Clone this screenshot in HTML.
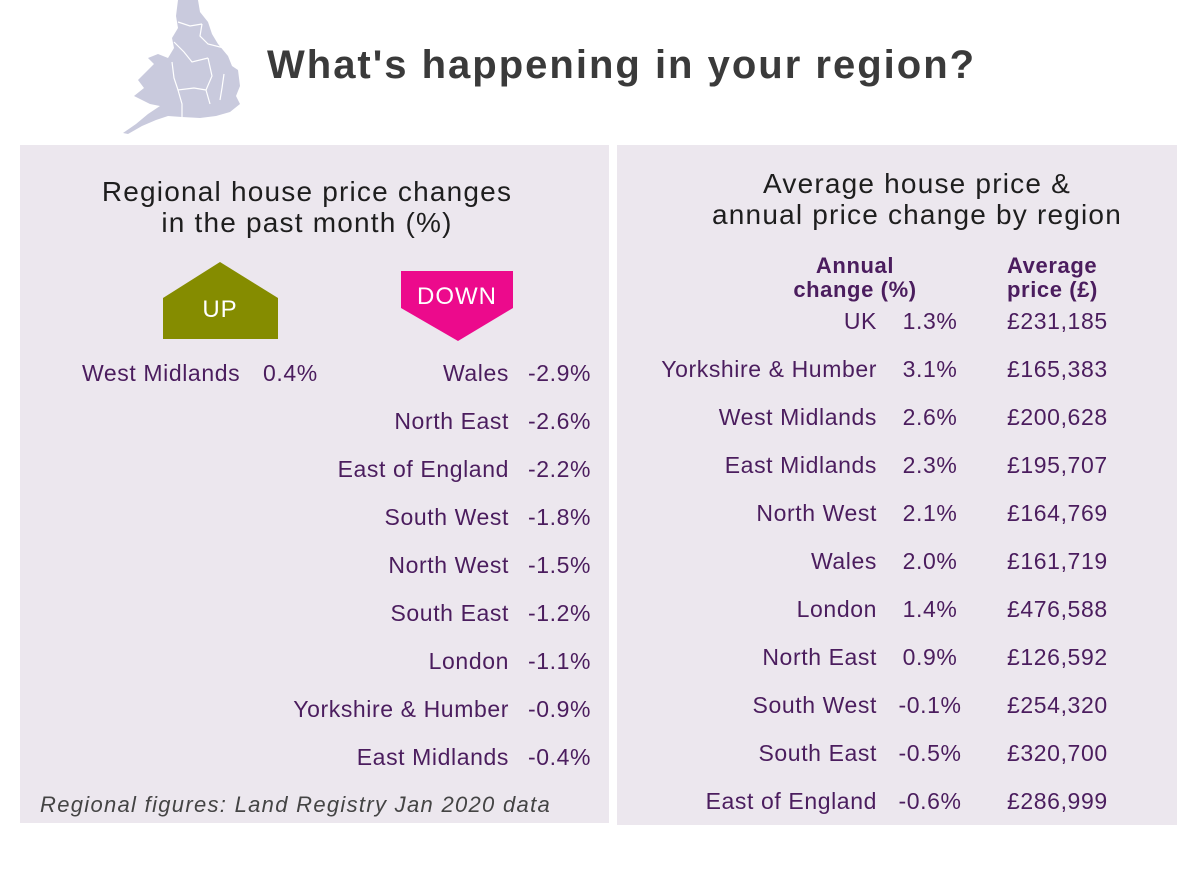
<!DOCTYPE html>
<html><head><meta charset="utf-8"><style>
body{margin:0;width:1200px;height:870px;background:#fff;position:relative;overflow:hidden;font-family:"Liberation Sans",sans-serif}
.p{position:absolute;background:#ece7ee}
.t{position:absolute;white-space:nowrap;line-height:1;color:#4b1d5e;font-size:23px;letter-spacing:0.6px}
.r{text-align:right}
.h{position:absolute;white-space:nowrap;color:#1e1e1e;font-size:28px;text-align:center;line-height:31px;letter-spacing:1.2px}
</style></head><body>
<svg style="position:absolute;left:120px;top:0" width="125" height="140" viewBox="0 0 125 140">
<path d="M58 0 L78 0 L80 12 L88 22 L92 34 L98 44 L108 56 L112 66 L118 70 L120 86 L116 96 L120 104 L110 112 L96 116 L80 118 L62 117 L48 116 L36 120 L22 126 L8 134 L3 133 L16 124 L28 114 L40 106 L30 104 L22 100 L14 96 L24 88 L18 80 L26 72 L34 64 L28 58 L38 54 L48 58 L54 48 L52 38 L58 28 L56 16 Z" fill="#c9cadd"/>
<g stroke="#fff" stroke-width="1.2" fill="none"><path d="M58 22 L70 26 L82 24"/><path d="M82 24 L80 36 L88 44 L104 48"/><path d="M54 42 L64 52 L72 62 L88 58"/><path d="M88 58 L92 76 L86 90 L90 104"/><path d="M52 62 L54 78 L58 90 L74 88 L86 90"/><path d="M58 90 L62 104 L62 117"/><path d="M104 74 L102 88 L100 100"/></g>
</svg>
<div style="position:absolute;left:267px;top:42px;font-size:40px;font-weight:bold;color:#3a3a3a;white-space:nowrap;line-height:46px;letter-spacing:2px">What's happening in your region?</div>
<div class="p" style="left:20px;top:145px;width:589px;height:678px"></div>
<div class="p" style="left:617px;top:145px;width:560px;height:680px"></div>
<div class="h" style="left:20px;width:574px;top:176px">Regional house price changes<br>in the past month (%)</div>
<div class="h" style="left:617px;width:600px;top:168px">Average house price &amp;<br>annual price change by region</div>
<svg style="position:absolute;left:0;top:0" width="1200" height="870">
<path d="M163 298 L220 262 L278 298 L278 339 L163 339 Z" fill="#858c00"/>
<path d="M401 271 L513 271 L513 308 L458 341 L401 308 Z" fill="#ec0a8c"/>
<text x="220" y="317" font-family="Liberation Sans" font-size="24" fill="#fff" text-anchor="middle" letter-spacing="1">UP</text>
<text x="457" y="304" font-family="Liberation Sans" font-size="24" fill="#fff" text-anchor="middle" letter-spacing="1">DOWN</text>
</svg>
<div class="t" style="left:82px;top:362px">West Midlands</div>
<div class="t" style="left:263px;top:362px">0.4%</div>
<div id="L"></div>
<div class="t" style="left:40px;top:794px;font-style:italic;color:#444;font-size:22px;letter-spacing:1.3px">Regional figures: Land Registry Jan 2020 data</div>
<div class="t" style="left:780px;top:254px;width:150px;text-align:center;font-weight:bold;line-height:24px;font-size:22px">Annual<br>change (%)</div>
<div class="t" style="left:1007px;top:254px;font-weight:bold;line-height:24px;font-size:22px">Average<br>price (£)</div>
<div id="R"></div>
<script>
var L=[["Wales","-2.9%"],["North East","-2.6%"],["East of England","-2.2%"],["South West","-1.8%"],["North West","-1.5%"],["South East","-1.2%"],["London","-1.1%"],["Yorkshire &amp; Humber","-0.9%"],["East Midlands","-0.4%"]];
var h="";L.forEach(function(r,i){var y=362+48*i;h+='<div class="t r" style="left:150px;width:359px;top:'+y+'px">'+r[0]+'</div><div class="t" style="left:528px;top:'+y+'px">'+r[1]+'</div>';});
document.getElementById("L").outerHTML=h;
var R=[["UK","1.3%","£231,185"],["Yorkshire &amp; Humber","3.1%","£165,383"],["West Midlands","2.6%","£200,628"],["East Midlands","2.3%","£195,707"],["North West","2.1%","£164,769"],["Wales","2.0%","£161,719"],["London","1.4%","£476,588"],["North East","0.9%","£126,592"],["South West","-0.1%","£254,320"],["South East","-0.5%","£320,700"],["East of England","-0.6%","£286,999"]];
h="";R.forEach(function(r,i){var y=310+48*i;h+='<div class="t r" style="left:600px;width:277px;top:'+y+'px">'+r[0]+'</div><div class="t" style="left:880px;width:100px;text-align:center;top:'+y+'px">'+r[1]+'</div><div class="t" style="left:1007px;top:'+y+'px">'+r[2]+'</div>';});
document.getElementById("R").outerHTML=h;
</script>
</body></html>
